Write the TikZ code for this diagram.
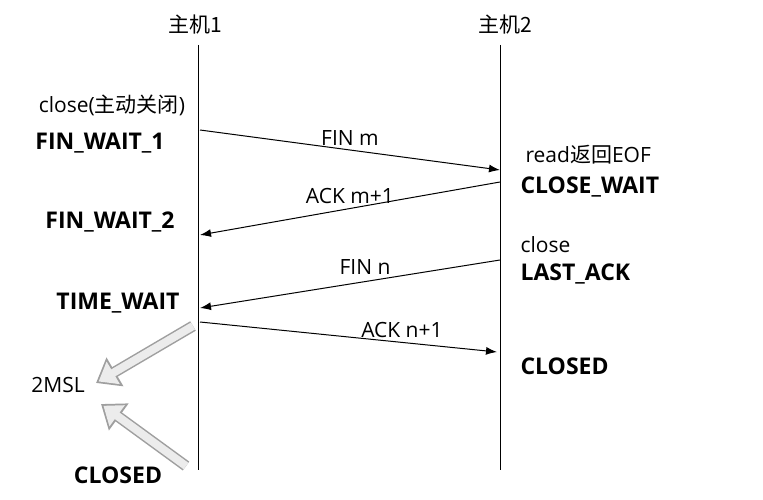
\documentclass[tikz,border=0pt]{standalone}
\usepackage{fontspec}
\setmainfont{Open Sans}
\newfontfamily\cjk{Noto Sans CJK SC}
\usetikzlibrary{arrows.meta}
\begin{document}
\begin{tikzpicture}[x=1pt,y=-1pt,font=\fontsize{21}{24}\selectfont,
	msg/.style={-{Latex[length=11pt,width=8pt]},line width=1pt},
	state/.style={font=\fontsize{23}{26}\selectfont\bfseries},
	wait/.style={line width=11pt,draw=gray!75,-{Triangle[length=22pt,width=32pt]}},
	waitin/.style={line width=8pt,draw=gray!15,-{Triangle[length=17pt,width=25pt]},shorten >=3pt}]
	\useasboundingbox (0,0) rectangle (763,500);

		\node (h1) at (195,25) {\cjk\fontsize{21}{24}\selectfont 主机1};
		\node (h2) at (505,25) {\cjk\fontsize{21}{24}\selectfont 主机2};
		\coordinate (h1b) at (198,470);
		\coordinate (h2b) at (500,470);
		\draw[line width=1pt] (198,45) -- (h1b);
		\draw[line width=1pt] (500,45) -- (h2b);

		\node (cl1) at (112,105) {close({\cjk 主动关闭})};
		\node[state] (fw1) at (100,143) {FIN\_WAIT\_1};
		\node[state] (fw2) at (110,222) {FIN\_WAIT\_2};
		\node[state] (tw) at (118,303) {TIME\_WAIT};
		\node (msl) at (58,385) {2MSL};
		\node[state] (cd1) at (118,475) {CLOSED};

		\node[anchor=west] (eof) at (522,155) {read{\cjk 返回}EOF};
		\node[state,anchor=west] (cw) at (517,187) {CLOSE\_WAIT};
		\node[anchor=west] (cl2) at (517,245) {close};
		\node[state,anchor=west] (la) at (517,274) {LAST\_ACK};
		\node[state,anchor=west] (cd2) at (517,366) {CLOSED};

		\coordinate (a1) at (200,130);
		\coordinate (b1) at (500,170);
		\coordinate (b2) at (500,182);
		\coordinate (a2) at (200,235);
		\coordinate (b3) at (500,260);
		\coordinate (a3) at (200,308);
		\coordinate (a4) at (200,322);
		\coordinate (b4) at (497,352);
		\path[msg] (a1) edge node[pos=0.5,above=1pt] {FIN m} (b1);
		\path[msg] (b2) edge node[pos=0.5,above=1pt] {ACK m+1} (a2);
		\path[msg] (b3) edge node[pos=0.45,above=3pt] {FIN n} (a3);
		\path[msg] (a4) edge node[pos=0.68,above=1pt] {ACK n+1} (b4);

		\coordinate (s1) at (193,326);
		\coordinate (e1) at (96,383);
		\coordinate (s2) at (186,466);
		\coordinate (e2) at (101,404);
		\draw[wait] (s1) -- (e1);
		\draw[waitin] (s1) -- (e1);
		\draw[wait] (s2) -- (e2);
		\draw[waitin] (s2) -- (e2);

	\end{tikzpicture}
\end{document}
